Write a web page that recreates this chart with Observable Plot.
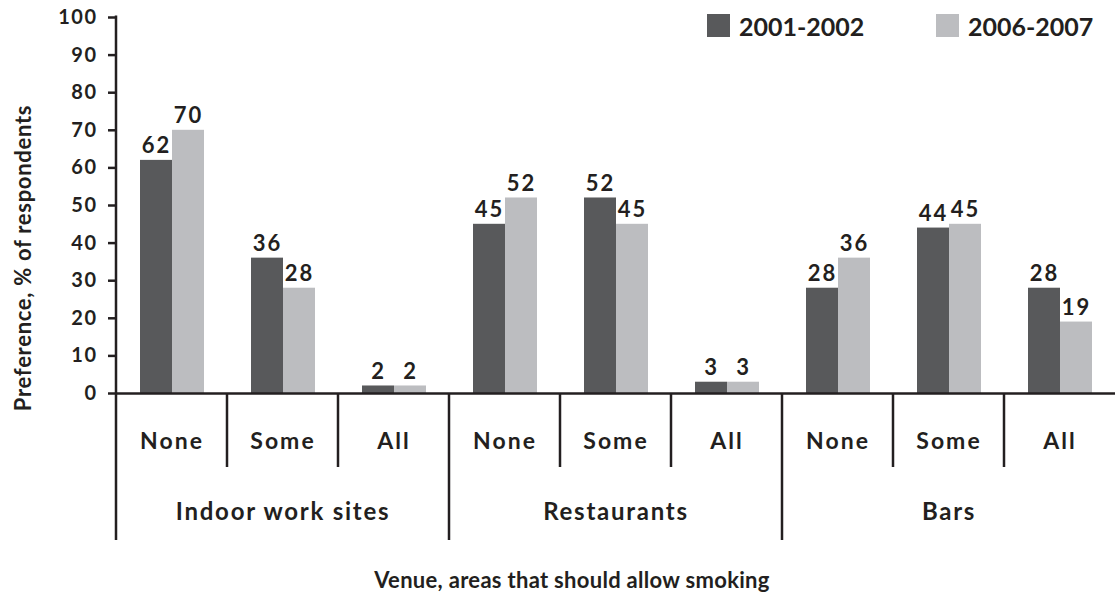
<!DOCTYPE html>
<html>
<head>
<meta charset="utf-8">
<script src="https://cdn.jsdelivr.net/npm/d3@7"></script>
<script src="https://cdn.jsdelivr.net/npm/@observablehq/plot@0.6"></script>
<style>
  body { margin: 0; background: #fff; }
  #chart svg { display: block; }
  #chart svg g[aria-label="y-axis tick"] { stroke-width: 2.5px; }
  #chart svg g[aria-label="y-axis tick label"] text { letter-spacing: 1.5px; }
</style>
</head>
<body>
<div id="chart"></div>
<script>
// Venues and the share of each venue where smoking should be allowed
const venues = ["Indoor work sites", "Restaurants", "Bars"];
const levels = ["None", "Some", "All"];
const periods = ["2001-2002", "2006-2007"];
// Preference, % of respondents, in venue × level order
const values2001 = [62, 36, 2, 45, 52, 3, 28, 44, 28];
const values2006 = [70, 28, 2, 52, 45, 3, 36, 45, 19];
const yTicks = [0, 10, 20, 30, 40, 50, 60, 70, 80, 90, 100];

const ink = "#231f20";
const dark = "#58595b";
const light = "#bcbdc0";
const font = "Lato, sans-serif";

// Text sizes and the tracking used with each of them
const valueSize = 22, levelSize = 23, venueSize = 24;
const tracking = {[valueSize]: "2px", [levelSize]: "2px", [venueSize]: "1.75px"};

const keys = venues.flatMap(v => levels.map(l => `${v}|${l}`));
const rows = keys.flatMap((key, i) => [
  {key, period: periods[0], value: values2001[i]},
  {key, period: periods[1], value: values2006[i]}
]);

const plot = Plot.plot({
  width: 1115,
  height: 594,
  marginLeft: 115,
  marginRight: 0,
  marginTop: 17,
  marginBottom: 201,
  style: {fontFamily: font, fontWeight: 700, fontSize: "20px", color: ink, background: "#fff", overflow: "visible"},
  fx: {domain: keys, padding: 0, axis: null},
  x: {domain: periods, paddingInner: 0, paddingOuter: 0.73, axis: null},
  y: {domain: [0, 100], ticks: yTicks, tickSize: 8, tickPadding: 11, label: null, grid: false},
  color: {domain: periods, range: [dark, light]},
  marks: [
    Plot.barY(rows, {fx: "key", x: "period", y: "value", fill: "period"}),
    Plot.ruleY([0], {stroke: ink, strokeWidth: 2.5}),
    Plot.text(rows, {
      fx: "key", x: "period", y: "value", text: d => String(d.value),
      lineAnchor: "bottom", dy: -7, fontSize: valueSize, fill: ink
    }),
    Plot.text(keys, {
      fx: d => d, text: d => d.split("|")[1], frameAnchor: "bottom",
      lineAnchor: "bottom", dy: 55, fontSize: levelSize, fill: ink
    }),
    Plot.text(venues, {
      fx: d => `${d}|Some`, text: d => d, frameAnchor: "bottom",
      lineAnchor: "bottom", dy: 126, fontSize: venueSize, fill: ink
    })
  ]
});

const svg = d3.select(plot);

// Letter spacing for the text marks, keyed by their font size
svg.selectAll("text").each(function() {
  const holder = this.closest("[font-size]");
  if (!holder || holder === plot) return;
  const ls = tracking[parseFloat(holder.getAttribute("font-size"))];
  if (ls) this.style.letterSpacing = ls;
});

// Hierarchical axis rules, axis titles and legend, placed from the plot's scales
const fx = plot.scale("fx");
const y = plot.scale("y");
const y0 = y.apply(0);
const xLeft = fx.apply(keys[0]);

const deco = svg.append("g").attr("stroke", ink).attr("stroke-width", 2.5);
deco.append("line")
  .attr("x1", xLeft).attr("x2", xLeft)
  .attr("y1", y.apply(100) - 1.5).attr("y2", y0 + 147);
keys.forEach((k, i) => {
  if (i === 0) return;
  const x = fx.apply(k);
  deco.append("line")
    .attr("x1", x).attr("x2", x)
    .attr("y1", y0).attr("y2", y0 + (i % levels.length === 0 ? 147 : 74));
});

const titles = svg.append("g")
  .attr("fill", ink).attr("font-family", font).attr("font-weight", 700);
titles.append("text")
  .attr("transform", `translate(31,258) rotate(-90)`)
  .attr("text-anchor", "middle")
  .attr("font-size", 22).style("letter-spacing", "0.7px")
  .text("Preference, % of respondents");
titles.append("text")
  .attr("x", 572).attr("y", 588)
  .attr("text-anchor", "middle")
  .attr("font-size", 22).style("letter-spacing", "0.3px")
  .text("Venue, areas that should allow smoking");

const color = plot.scale("color");
const legendX = [707, 936];
const legend = svg.append("g")
  .attr("font-family", font).attr("font-weight", 700).attr("text-anchor", "start");
periods.forEach((p, i) => {
  legend.append("rect")
    .attr("x", legendX[i]).attr("y", 14).attr("width", 23).attr("height", 23)
    .attr("fill", color.apply(p));
  legend.append("text")
    .attr("x", legendX[i] + 32).attr("y", 36)
    .attr("font-size", 25).attr("fill", ink)
    .text(p);
});

document.getElementById("chart").append(plot);
</script>
</body>
</html>
